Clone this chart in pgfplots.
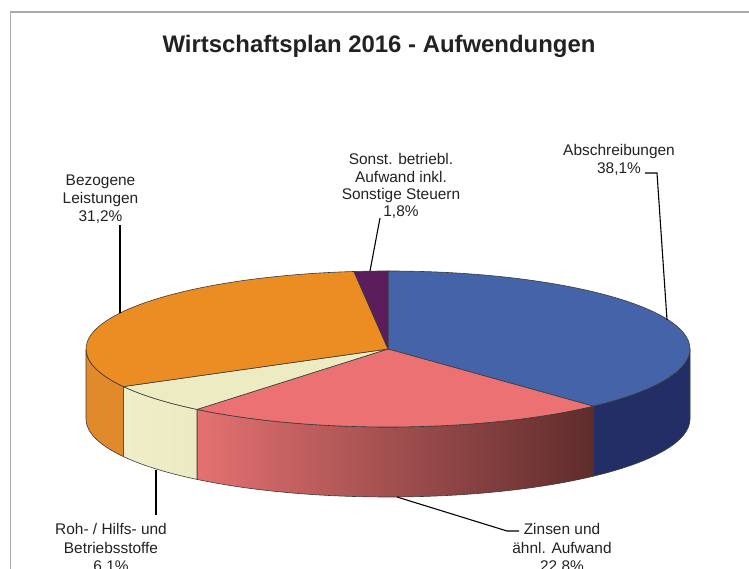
\documentclass[border=0pt]{standalone}
\usepackage{pgfplots}
\pgfplotsset{compat=1.18}
\usepackage{pgfplotstable}
\usepackage{fontspec}
\setmainfont{Liberation Sans}

\definecolor{cBlue}{HTML}{4563A9}
\definecolor{cBlueSide}{HTML}{232D66}
\definecolor{cPink}{HTML}{EB7173}
\definecolor{cPinkL}{HTML}{E47171}
\definecolor{cPinkR}{HTML}{5F2C2C}
\definecolor{cCream}{HTML}{ECEBC2}
\definecolor{cCreamL}{HTML}{EFEEC8}
\definecolor{cCreamR}{HTML}{E3E0B6}
\definecolor{cOrange}{HTML}{EB8D23}
\definecolor{cOrangeL}{HTML}{E08A2C}
\definecolor{cOrangeR}{HTML}{E98D25}
\definecolor{cPurple}{HTML}{5B1D5B}
\definecolor{cEdge}{HTML}{3A3A3A}
\definecolor{cText}{HTML}{222222}
\definecolor{cFrame}{HTML}{AAAAAA}

% shares in percent, clockwise from 12 o'clock
\pgfplotstableread[col sep=comma]{
name,value
Abschreibungen,38.1
Zinsen,22.8
Roh,6.1
Bezogene,31.2
Sonst,1.8
}\piedata
\pgfplotstablegetelem{0}{value}\of\piedata \let\va\pgfplotsretval
\pgfplotstablegetelem{1}{value}\of\piedata \let\vb\pgfplotsretval
\pgfplotstablegetelem{2}{value}\of\piedata \let\vc\pgfplotsretval
\pgfplotstablegetelem{3}{value}\of\piedata \let\vd\pgfplotsretval
\pgfplotstablegetelem{4}{value}\of\piedata \let\ve\pgfplotsretval
\pgfmathsetmacro\tA{90}
\pgfmathsetmacro\tB{\tA-3.6*\va}
\pgfmathsetmacro\tC{\tB-3.6*\vb}
\pgfmathsetmacro\tD{\tC-3.6*\vc}
\pgfmathsetmacro\tE{\tD-3.6*\vd}
\pgfmathsetmacro\tF{\tE-3.6*\ve}

\newcommand{\sidewall}[3]{%
  \path[#3] (axis cs:388,220) ++(#1:302bp and 78bp)
    arc[start angle=#1, end angle=#2, x radius=302bp, y radius=78bp]
    -- ++(0,-70bp)
    arc[start angle=#2, end angle=#1, x radius=302bp, y radius=78bp] -- cycle;}
\newcommand{\topslice}[3]{%
  \path[#3] (axis cs:388,220) -- ++(#1:302bp and 78bp)
    arc[start angle=#1, end angle=#2, x radius=302bp, y radius=78bp] -- cycle;}
\newcommand{\lbl}[3]{\node[anchor=base, inner sep=0pt, text=cText,
   font=\fontsize{15.5}{18}\selectfont] at (axis cs:#1,#2) {#3};}

\begin{document}
\begin{tikzpicture}
\useasboundingbox (0,0) rectangle (749bp,569bp);
\begin{axis}[at={(0,0)}, anchor=south west,
  width=749bp, height=569bp, scale only axis,
  xmin=0, xmax=749, ymin=0, ymax=569,
  hide axis, clip=false]
% frame
\draw[cFrame, line width=1.4bp] (axis cs:10.5,-5) -- (axis cs:10.5,557) -- (axis cs:760,557);
% title
\node[anchor=base, text=cText, font=\bfseries\fontsize{24}{28}\selectfont]
  at (axis cs:379,516) {Wirtschaftsplan 2016 - Aufwendungen};
% side walls
\sidewall{0}{\tB}{fill=cBlueSide, draw=cEdge, line width=0.6bp}
\sidewall{\tB}{\tC}{left color=cPinkL, right color=cPinkR, draw=cEdge, line width=0.6bp}
\sidewall{\tC}{\tD}{left color=cCreamL, right color=cCreamR, draw=cEdge, line width=0.6bp}
\sidewall{\tD}{-180}{left color=cOrangeL, right color=cOrangeR, draw=cEdge, line width=0.6bp}
% top faces
\topslice{\tA}{\tB}{fill=cBlue, draw=cEdge, line width=0.6bp}
\topslice{\tB}{\tC}{fill=cPink, draw=cEdge, line width=0.6bp}
\topslice{\tC}{\tD}{fill=cCream, draw=cEdge, line width=0.6bp}
\topslice{\tD}{\tE}{fill=cOrange, draw=cEdge, line width=0.6bp}
\topslice{\tE}{\tF}{fill=cPurple, draw=cEdge, line width=0.6bp}
% leader lines
\addplot[black, line width=1.1bp] coordinates {(645,396) (657,396) (667,249)};
\addplot[black, line width=1.1bp] coordinates {(380,351) (370,298)};
\addplot[black, line width=1.1bp] coordinates {(120,344) (120,256)};
\addplot[black, line width=1.1bp] coordinates {(156,99) (156,54)};
\addplot[black, line width=1.1bp] coordinates {(397,72) (507,38) (519,38)};
% labels
\lbl{619}{413}{Abschreibungen}
\lbl{619}{395}{38,1\%}
\lbl{401}{404}{Sonst. betriebl.}
\lbl{401}{386.7}{Aufwand inkl.}
\lbl{401}{369.4}{Sonstige Steuern}
\lbl{401}{352}{1,8\%}
\lbl{100.5}{383}{Bezogene}
\lbl{100.5}{365}{Leistungen}
\lbl{100.5}{347}{31,2\%}
\lbl{111}{34}{Roh- / Hilfs- und}
\lbl{111}{16}{Betriebsstoffe}
\lbl{111}{-2}{6,1\%}
\lbl{562}{34}{Zinsen und}
\lbl{562}{16}{ähnl. Aufwand}
\lbl{562}{-2}{22,8\%}
\end{axis}
\end{tikzpicture}
\end{document}
